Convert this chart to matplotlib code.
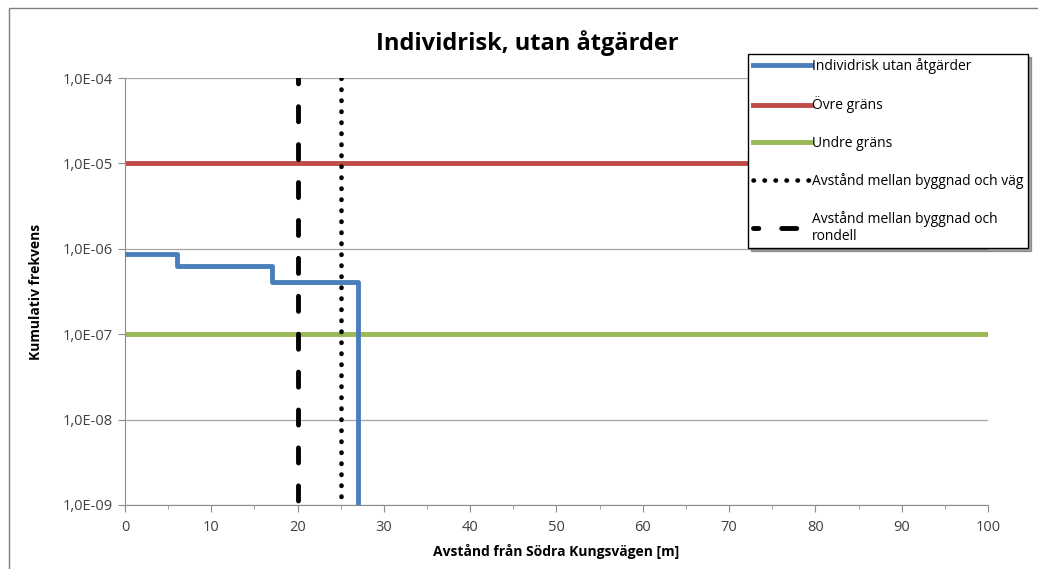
import matplotlib
matplotlib.use("Agg")
import matplotlib.pyplot as plt
from matplotlib.patches import Rectangle
from matplotlib.ticker import FixedLocator, FuncFormatter, MultipleLocator

plt.rcParams['font.family'] = ['Open Sans', 'DejaVu Sans']

# individrisk, trappsteg
risk_x = [0, 6, 6, 17, 17, 27, 27]
risk_y = [8.6e-7, 8.6e-7, 6.3e-7, 6.3e-7, 4.1e-7, 4.1e-7, 1e-9]

grans_x = [0, 100]
ovre_grans = [1e-5, 1e-5]
undre_grans = [1e-7, 1e-7]

avstand_vag = 25
avstand_rondell = 20

y_ticks = [1e-9, 1e-8, 1e-7, 1e-6, 1e-5, 1e-4]
y_labels = ["1,0E-09", "1,0E-08", "1,0E-07", "1,0E-06", "1,0E-05", "1,0E-04"]

fig = plt.figure(figsize=(10.38, 5.69), dpi=100)
ax = fig.add_axes([0.1204, 0.1125, 0.8314, 0.7504])

ax.plot(risk_x, risk_y, color="#4a7ebb", lw=3.5, label="Individrisk utan åtgärder", zorder=3)
ax.plot(grans_x, ovre_grans, color="#be4b48", lw=3.5, label="Övre gräns", zorder=2)
ax.plot(grans_x, undre_grans, color="#98b954", lw=3.5, label="Undre gräns", zorder=2)
ax.plot([avstand_vag, avstand_vag], [1e-4, 1e-9], color="black", lw=3.3,
        linestyle=(0, (0.1, 2.3)), dash_capstyle="round",
        label="Avstånd mellan byggnad och väg", zorder=4)
ax.plot([avstand_rondell, avstand_rondell], [1e-4, 1e-9], color="black", lw=3.5,
        linestyle=(2.0, (3.1, 4.7)), dash_capstyle="round",
        label="Avstånd mellan byggnad och\nrondell", zorder=4)

ax.set_yscale("log")
ax.set_xlim(0, 100)
ax.set_ylim(1e-9, 1e-4)
ax.yaxis.set_major_locator(FixedLocator(y_ticks))
ax.yaxis.set_minor_locator(FixedLocator([]))
ax.set_yticklabels(y_labels)
ax.xaxis.set_major_locator(MultipleLocator(10))
ax.xaxis.set_minor_locator(MultipleLocator(5))
ax.xaxis.set_major_formatter(FuncFormatter(lambda v, p: f"{v:.0f}"))

ax.grid(axis="y", color="#a6a6a6", lw=0.9, zorder=0)
for s in ["top", "right"]:
    ax.spines[s].set_visible(False)
for s in ["left", "bottom"]:
    ax.spines[s].set_color("#8c8c8c")
ax.tick_params(axis="both", which="major", length=5, color="#8c8c8c", labelsize=10.5, colors="#404040")
ax.tick_params(axis="x", which="minor", length=3, color="#8c8c8c")
ax.tick_params(axis="x", pad=6)

ax.set_xlabel("Avstånd från Södra Kungsvägen [m]", fontsize=10, fontweight="bold", labelpad=6)
ax.set_ylabel("Kumulativ frekvens", fontsize=10, fontweight="bold", labelpad=14)
fig.text(0.508, 0.925, "Individrisk, utan åtgärder", ha="center", va="center",
         fontsize=17, fontweight="bold")

leg = fig.legend(loc="upper left", bbox_to_anchor=(0.721, 0.905), frameon=True,
                 fancybox=False, shadow=True, edgecolor="black", fontsize=10,
                 handlelength=4.2, handletextpad=0.1, labelspacing=1.6, borderpad=0.3,
                 borderaxespad=0)
leg.get_frame().set_linewidth(1)

# ram runt diagrammet (höger och nederkant ligger utanför bilden)
fig.patches.append(Rectangle((0.0087, -0.1), 1.2, 1.086, transform=fig.transFigure,
                             fill=False, edgecolor="#7f7f7f", lw=1))

fig.savefig("out.png", dpi=100)
